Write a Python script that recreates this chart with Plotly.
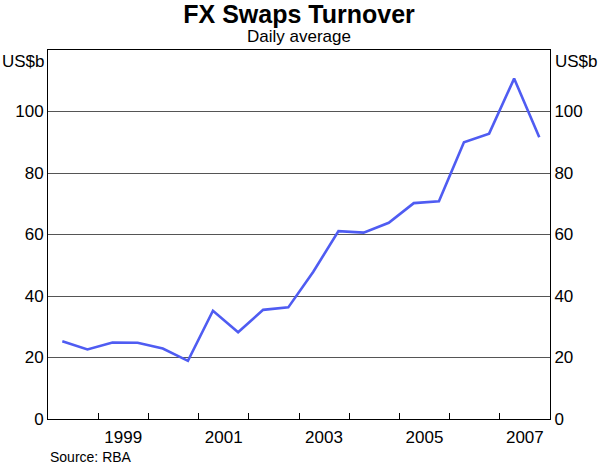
import plotly.graph_objects as go

periods = ["1998-04-15", "1998-10-15", "1999-04-15", "1999-10-15", "2000-04-15",
           "2000-10-15", "2001-04-15", "2001-10-15", "2002-04-15", "2002-10-15",
           "2003-04-15", "2003-10-15", "2004-04-15", "2004-10-15", "2005-04-15",
           "2005-10-15", "2006-04-15", "2006-10-15", "2007-04-15", "2007-10-15"]
turnover = [25.3, 22.6, 24.9, 24.8, 22.9, 18.9, 35.2, 28.2, 35.5, 36.3,
            47.9, 61.1, 60.6, 63.8, 70.2, 70.8, 90.0, 92.8, 110.7, 91.6]

year_ticks = [f"{y}-01-01" for y in range(1999, 2008)]
label_pos = [f"{y}-07-02" for y in [1999, 2001, 2003, 2005, 2007]]
label_text = ["1999", "2001", "2003", "2005", "2007"]
y_ticks = [0, 20, 40, 60, 80, 100]

font_family = "Liberation Sans, Arial, sans-serif"
xrange = ["1998-01-01", "2008-01-01"]
PH = 369  # plot height in px
FS = 17

fig = go.Figure()
fig.add_trace(go.Scatter(x=periods, y=turnover, mode="lines",
                         line=dict(color="#4f5cf2", width=2.6), showlegend=False))
fig.add_trace(go.Scatter(x=periods, y=turnover, mode="lines", yaxis="y2",
                         line=dict(width=0), hoverinfo="skip", showlegend=False, opacity=0))
fig.add_trace(go.Scatter(x=periods, y=turnover, mode="lines", xaxis="x2",
                         line=dict(width=0), hoverinfo="skip", showlegend=False, opacity=0))

fig.update_layout(
    width=604, height=464,
    margin=dict(l=48, r=54, t=50, b=45, autoexpand=False),
    paper_bgcolor="white", plot_bgcolor="white",
    font=dict(family=font_family, size=FS, color="black"),
    title=dict(text="<b>FX Swaps Turnover</b>", x=0.5, xanchor="center",
               xref="paper", y=1 - 14 / 464, yanchor="middle",
               font=dict(size=25, family=font_family)),
    xaxis=dict(type="date", range=xrange, tickvals=year_ticks,
               ticktext=[""] * len(year_ticks), ticks="inside", ticklen=6,
               tickcolor="black", showgrid=False, showline=True, linecolor="black",
               linewidth=1, mirror=True, zeroline=False, automargin=False),
    xaxis2=dict(type="date", range=xrange, overlaying="x", side="bottom",
                tickvals=label_pos, ticktext=label_text, ticks="", showgrid=False,
                showline=False, zeroline=False, tickfont=dict(size=FS),
                ticklabelstandoff=6, automargin=False),
    yaxis=dict(range=[0, 120], tickvals=y_ticks, ticks="", showgrid=True,
               gridcolor="#555555", gridwidth=1, showline=True, linecolor="black",
               linewidth=1, zeroline=False, tickfont=dict(size=FS), automargin=False),
    yaxis2=dict(range=[0, 120], tickvals=y_ticks, overlaying="y", side="right",
                ticks="", showgrid=False, showline=True, linecolor="black",
                zeroline=False, tickfont=dict(size=FS), automargin=False),
)

fig.add_annotation(text="Daily average", xref="paper", yref="paper", x=0.5,
                   y=1.0 + 13 / PH, yanchor="middle", xanchor="center",
                   showarrow=False, font=dict(size=FS))
fig.add_annotation(text="US$b", xref="paper", yref="paper", x=0, xshift=-1,
                   y=1.0 - 11 / PH, xanchor="right", yanchor="middle",
                   showarrow=False, font=dict(size=FS))
fig.add_annotation(text="US$b", xref="paper", yref="paper", x=1, xshift=3,
                   y=1.0 - 11 / PH, xanchor="left", yanchor="middle",
                   showarrow=False, font=dict(size=FS))
fig.add_annotation(text="Source: RBA", xref="paper", yref="paper", x=0,
                   y=-38 / PH, xanchor="left", yanchor="middle",
                   showarrow=False, font=dict(size=14))

fig.write_html("out.html", config={"displayModeBar": False},
               post_script="document.body.style.margin='0';document.body.style.overflow='hidden';")
